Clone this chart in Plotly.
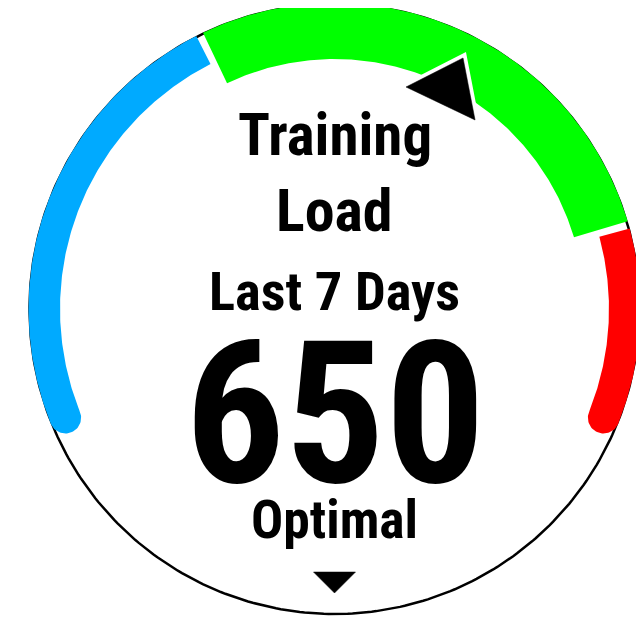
import numpy as np
import plotly.graph_objects as go

# ---------------- data ----------------
title_lines = ["Training", "Load", "Last 7 Days"]
value = 650
status_label = "Optimal"
zone_names = ["Low", "Optimal", "High"]
zone_starts = [0, 389, 843]
zone_ends = [389, 843, 1015]
zone_colors = ["#00AAFF", "#00FF00", "#FF0000"]
gauge_min, gauge_max = 0, 1015

# ---------------- layout / style ----------------
W, H = 644, 617
PAGE_OFF = 8  # default body margin of the html page
CX, CY = 334.5, 309.0
START_DEG, END_DEG = 202.0, -22.0
R_OUT = 306.0
R_IN = [274.5, 250.0, 274.5]
GAP_DEG = 0.7
FONT = "Roboto Condensed, Liberation Sans Narrow, DejaVu Sans Condensed, Arial Narrow, sans-serif"


def ang(v):
    f = (v - gauge_min) / (gauge_max - gauge_min)
    return np.radians(START_DEG + f * (END_DEG - START_DEG))


def pt(r, a):
    return CX + r * np.cos(a), CY - r * np.sin(a)


fig = go.Figure()

# background outline circle
th = np.linspace(0, 2 * np.pi, 400)
fig.add_trace(go.Scatter(x=CX + 305 * np.cos(th), y=CY - 305 * np.sin(th), mode="lines",
                         line=dict(color="black", width=2.5), hoverinfo="skip", showlegend=False))

gap = np.radians(GAP_DEG)
n = len(zone_starts)
for i in range(n):
    a0 = ang(zone_starts[i]) - (gap if i > 0 else 0)
    a1 = ang(zone_ends[i]) + (gap if i < n - 1 else 0)
    r_in = R_IN[i]
    w = R_OUT - r_in
    rm = (R_OUT + r_in) / 2
    xs, ys = [], []
    aa = np.linspace(a0, a1, 200)
    ox, oy = pt(R_OUT, aa)
    xs += list(ox); ys += list(oy)
    if i == n - 1:  # rounded end cap
        cx, cy = pt(rm, a1)
        u = np.array([np.cos(a1), -np.sin(a1)])
        d = np.array([np.sin(a1), np.cos(a1)])
        for p in np.linspace(0, np.pi, 40):
            v = (w / 2) * (np.cos(p) * u + np.sin(p) * d)
            xs.append(cx + v[0]); ys.append(cy + v[1])
    ix, iy = pt(r_in, aa[::-1])
    xs += list(ix); ys += list(iy)
    if i == 0:  # rounded start cap
        cx, cy = pt(rm, a0)
        u = np.array([np.cos(a0), -np.sin(a0)])
        e = np.array([-np.sin(a0), -np.cos(a0)])
        for p in np.linspace(0, np.pi, 40):
            v = (w / 2) * (np.cos(p) * (-u) + np.sin(p) * e)
            xs.append(cx + v[0]); ys.append(cy + v[1])
    fig.add_trace(go.Scatter(x=xs, y=ys, mode="lines", fill="toself", fillcolor=zone_colors[i],
                             line=dict(width=0, color=zone_colors[i]), name=zone_names[i],
                             hoverinfo="skip", showlegend=False))

# value pointer (triangle template in local radial/tangential frame)
pa = ang(value)
R_PTR = 257.9
ptr_local = [(-31.2, 54.8), (23.3, 21.3), (-23.3, -21.3)]
u = np.array([np.cos(pa), -np.sin(pa)])
t = np.array([-np.sin(pa), -np.cos(pa)])
ax0, ay0 = pt(R_PTR, pa)
px = [ax0 + dr * u[0] + dt * t[0] for dr, dt in ptr_local]
py = [ay0 + dr * u[1] + dt * t[1] for dr, dt in ptr_local]
px.append(px[0]); py.append(py[0])
fig.add_trace(go.Scatter(x=px, y=py, mode="lines", fill="toself", fillcolor="white",
                         line=dict(color="white", width=8), hoverinfo="skip", showlegend=False))
fig.add_trace(go.Scatter(x=px, y=py, mode="lines", fill="toself", fillcolor="black",
                         line=dict(color="black", width=0.5), hoverinfo="skip", showlegend=False))

# small down indicator at bottom
dx_ = [CX - 21, CX + 21, CX, CX - 21]
dy_ = [CY + 263, CY + 263, CY + 284, CY + 263]
fig.add_trace(go.Scatter(x=dx_, y=dy_, mode="lines", fill="toself", fillcolor="black",
                         line=dict(color="black", width=0.5), hoverinfo="skip", showlegend=False))

# texts
texts = [(title_lines[0], 134, 59), (title_lines[1], 210.5, 60),
         (title_lines[2], 290.5, 54.5), (str(value), 414, 198),
         (status_label, 519.5, 53.5)]
for txt, yy, sz in texts:
    fig.add_annotation(x=CX, y=yy, text=txt, showarrow=False, xanchor="center", yanchor="middle",
                       font=dict(family=FONT, size=sz, color="black", weight=700))

fig.update_layout(width=W - PAGE_OFF, height=H - PAGE_OFF, margin=dict(l=0, r=0, t=0, b=0),
                  autosize=False, paper_bgcolor="white", plot_bgcolor="white",
                  xaxis=dict(range=[PAGE_OFF, W], visible=False, fixedrange=True),
                  yaxis=dict(range=[H, PAGE_OFF], visible=False, fixedrange=True),
                  showlegend=False)

fig.write_html("out.html")
